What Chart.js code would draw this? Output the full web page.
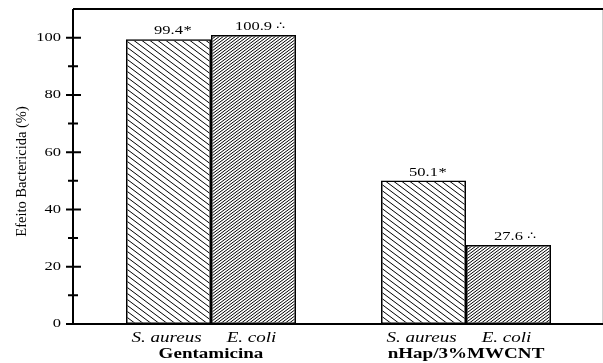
<!DOCTYPE html>
<html>
<head>
<meta charset="utf-8">
<script src="https://cdn.jsdelivr.net/npm/chart.js"></script>
<style>
  html, body { margin: 0; padding: 0; background: #fff; }
  canvas { display: block; }
</style>
</head>
<body>
<canvas id="chart" width="603" height="363"></canvas>
<script>
// dados do gráfico
const grupos = ['Gentamicina', 'nHap/3%MWCNT'];
const bacterias = ['S. aureus', 'E. coli'];
const efeitoSaureus = [99.4, 50.1];
const efeitoEcoli = [100.9, 27.6];
const marcas = ['*', '\u2234'];
const ticksY = [0, 20, 40, 60, 80, 100];
const ticksMenoresY = [10, 30, 50, 70, 90];
const tituloY = 'Efeito Bactericida (%)';

const serif = '"Liberation Serif", "Times New Roman", serif';
const esticar = 1.27; // o texto da figura original é mais largo

// padrão de hachura para as barras
function hachura(largura, altura, barra) {
    let c = document.createElement('canvas');
    c.width = largura;
    c.height = altura;
    let g = c.getContext('2d');
    g.strokeStyle = '#000';
    g.lineWidth = 1;
    g.beginPath();
    for (let k = -1; k <= 1; k++) {
        let dx = k * largura;
        if (barra) { // "/"
            g.moveTo(dx - largura, 2 * altura);
            g.lineTo(dx + 2 * largura, -altura);
        } else { // "\"
            g.moveTo(dx - largura, -altura);
            g.lineTo(dx + 2 * largura, 2 * altura);
        }
    }
    g.stroke();
    return g.createPattern(c, 'repeat');
}

function texto(ctx, str, x, y, font, align) {
    ctx.save();
    ctx.font = font;
    ctx.translate(x, y);
    ctx.scale(esticar, 1);
    ctx.textAlign = align;
    ctx.fillText(str, 0, 0);
    ctx.restore();
}

function largura(ctx, str, font) {
    ctx.save();
    ctx.font = font;
    let w = ctx.measureText(str).width * esticar;
    ctx.restore();
    return w;
}

// eixos, marcas e textos desenhados por cima
const desenhoExtra = {
    id: 'desenhoExtra',
    afterDraw(chart) {
        let ctx = chart.ctx;
        let area = chart.chartArea;
        let escalaY = chart.scales.y;
        let escalaX = chart.scales.x;
        ctx.save();
        ctx.fillStyle = '#000';

        // borda direita clara
        ctx.lineWidth = 1;
        ctx.strokeStyle = '#d0d0d0';
        ctx.beginPath();
        ctx.moveTo(area.right + 0.5, area.top);
        ctx.lineTo(area.right + 0.5, area.bottom);
        ctx.stroke();

        ctx.strokeStyle = '#000';
        ctx.lineWidth = 2;
        ctx.beginPath();
        ctx.moveTo(area.left, area.top);
        ctx.lineTo(chart.width, area.top);
        ctx.moveTo(area.left, area.top);
        ctx.lineTo(area.left, area.bottom);
        ctx.moveTo(area.left - 7, area.bottom);
        ctx.lineTo(chart.width, area.bottom);
        ticksY.forEach(v => {
            let py = escalaY.getPixelForValue(v);
            ctx.moveTo(area.left - 7, py);
            ctx.lineTo(area.left + 8, py);
        });
        ticksMenoresY.forEach(v => {
            let py = escalaY.getPixelForValue(v);
            ctx.moveTo(area.left - 5, py);
            ctx.lineTo(area.left + 5, py);
        });
        ctx.stroke();

        // rótulos do eixo y
        ctx.textBaseline = 'middle';
        ticksY.forEach(v => {
            texto(ctx, String(v), area.left - 12, escalaY.getPixelForValue(v), '13px ' + serif, 'right');
        });

        // título do eixo y
        ctx.save();
        ctx.translate(22, (area.top + area.bottom) / 2 + 5);
        ctx.rotate(-Math.PI / 2);
        ctx.font = '14.5px ' + serif;
        ctx.textAlign = 'center';
        ctx.fillText(tituloY, 0, 0);
        ctx.restore();

        // valores acima das barras
        ctx.textBaseline = 'alphabetic';
        let fonteValor = '13px ' + serif;
        chart.data.datasets.forEach((ds, d) => {
            let meta = chart.getDatasetMeta(d);
            meta.data.forEach((barra, i) => {
                let num = ds.data[i].y.toFixed(1);
                let w = largura(ctx, num, fonteValor);
                let base = barra.y - 5;
                texto(ctx, num, barra.x, base, fonteValor, 'center');
                if (marcas[d] === '*') {
                    texto(ctx, marcas[d], barra.x + w / 2 + 0.5, base, fonteValor, 'left');
                } else {
                    texto(ctx, marcas[d], barra.x + w / 2 + 4, base - 1, '11px "DejaVu Sans", ' + serif, 'left');
                }
                // nome da bactéria abaixo
                texto(ctx, bacterias[d], barra.x - 2, area.bottom + 18, 'italic 15px ' + serif, 'center');
            });
        });

        // nome dos grupos
        grupos.forEach((g, i) => {
            texto(ctx, g, escalaX.getPixelForValue(i + 1), area.bottom + 34, 'bold 15px ' + serif, 'center');
        });
        ctx.restore();
    }
};

graficoEfeito();
function graficoEfeito() {
    let ctx = document.getElementById('chart').getContext('2d');
    let myBarChart = new Chart(ctx, {
        type: 'bar',
        data: {
            datasets: [
                {
                    label: bacterias[0],
                    data: grupos.map((g, i) => ({ x: i + 1, y: efeitoSaureus[i] })),
                    backgroundColor: hachura(8, 6, false),
                    borderColor: '#000',
                    borderWidth: 1.5,
                    borderSkipped: false,
                    categoryPercentage: 0.6667,
                    barPercentage: 1
                },
                {
                    label: bacterias[1],
                    data: grupos.map((g, i) => ({ x: i + 1, y: efeitoEcoli[i] })),
                    backgroundColor: hachura(4, 3, true),
                    borderColor: '#000',
                    borderWidth: 1.5,
                    borderSkipped: false,
                    categoryPercentage: 0.6667,
                    barPercentage: 1
                }
            ]
        },
        options: {
            responsive: false,
            animation: false,
            layout: { padding: { top: 9, right: 1, left: 0, bottom: 0 } },
            plugins: { legend: { display: false }, tooltip: { enabled: false } },
            scales: {
                x: {
                    type: 'linear',
                    min: 0.4588,
                    max: 2.5333,
                    offset: false,
                    afterBuildTicks: s => { s.ticks = grupos.map((g, i) => ({ value: i + 1 })); },
                    afterFit: s => { s.height = 39; },
                    ticks: { display: false },
                    grid: { display: false, offset: false },
                    border: { display: false }
                },
                y: {
                    min: 0,
                    max: 110,
                    afterBuildTicks: s => { s.ticks = ticksY.map(v => ({ value: v })); },
                    afterFit: s => { s.width = 73; },
                    ticks: { display: false },
                    grid: { display: false },
                    border: { display: false }
                }
            }
        },
        plugins: [desenhoExtra]
    });
}
</script>
</body>
</html>
